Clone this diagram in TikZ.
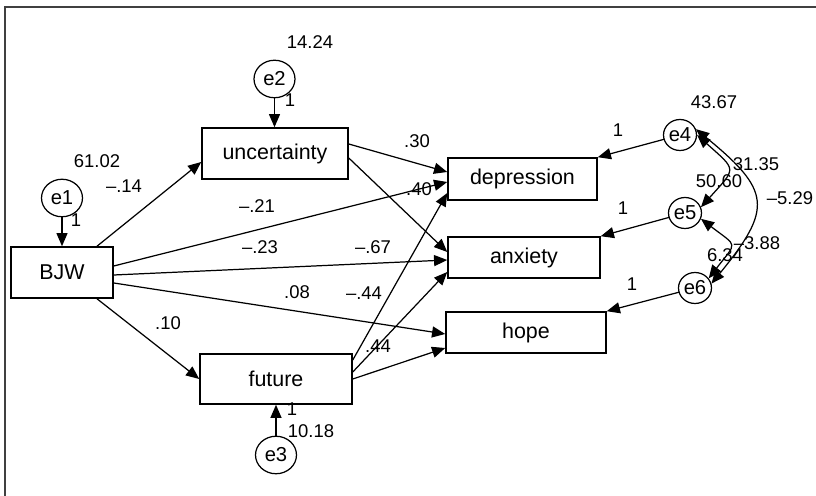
\documentclass[tikz,border=0pt]{standalone}
\usepackage{fontspec}
\setmainfont{Liberation Sans}
\usetikzlibrary{arrows.meta,calc,shapes.geometric}

\begin{document}
\begin{tikzpicture}
  [x=0.02cm,y=0.02cm,line cap=round,
   % Styles
   box/.style={draw,line width=0.9pt,inner sep=0pt,font=\fontsize{12.2}{14}\selectfont},
   err/.style={draw,ellipse,line width=0.7pt,inner sep=0pt,minimum width=0.82cm,minimum height=0.75cm,font=\fontsize{11.5}{13}\selectfont},
   small err/.style={err,minimum width=0.66cm,minimum height=0.62cm},
   num/.style={inner sep=0pt,font=\fontsize{10.5}{12}\selectfont},
   reg/.style={line width=0.7pt,-{Triangle[length=7.5pt,width=6.3pt]}},
   cov/.style={line width=0.7pt,{Triangle[length=7.5pt,width=6.3pt]}-{Triangle[length=7.5pt,width=6.3pt]},bend left=45,looseness=1.75},
   border line/.style={line width=0.8pt,black!75}]

  % Frame
  \useasboundingbox (0,0) rectangle (816,-496);
  \draw[border line] (5,-496) -- (5,-7) -- (816,-7);

  % Observed variables
  \node[box,minimum width=2.04cm,minimum height=1.02cm] (BJW)    at (62,-272.5) {BJW};
  \node[box,minimum width=2.92cm,minimum height=1.02cm] (uncert) at (275,-153.5) {uncertainty};
  \node[box,minimum width=3.04cm,minimum height=1.00cm] (future) at (276,-379) {future};
  \node[box,minimum width=2.98cm,minimum height=0.84cm] (depr)   at (522.5,-179) {depression};
  \node[box,minimum width=3.04cm,minimum height=0.82cm] (anx)    at (524,-257.5) {anxiety};
  \node[box,minimum width=3.20cm,minimum height=0.82cm] (hope)   at (526,-332.5) {hope};

  % Error terms
  \node[err] (e1) at (62,-198) {e1};
  \node[err] (e2) at (274.5,-79) {e2};
  \node[err] (e3) at (276,-455) {e3};
  \node[small err] (e4) at (680,-135) {e4};
  \node[small err] (e5) at (685,-213) {e5};
  \node[small err] (e6) at (695,-288) {e6};

  % Errors into variables
  \draw[reg] (e1) -- (e1 |- BJW.north);
  \draw[reg] (e2) -- (e2 |- uncert.north);
  \draw[reg] (e3) -- (e3 |- future.south);
  \draw[reg] (e4) -- (depr.north east);
  \draw[reg] (e5) -- (anx.north east);
  \draw[reg] (e6) -- (hope.north east);

  % Paths
  \draw[reg] ($(BJW.north)+(35,0)$) -- ($(uncert.west)+(0,-8.5)$);
  \draw[reg] ($(BJW.south)+(35,0)$) -- (future.west);
  \draw[reg] ($(BJW.east)+(0,6.5)$) -- ($(depr.west)+(0,-3)$);
  \draw[reg] ($(BJW.east)+(0,-2.5)$) -- ($(anx.west)+(0,-2.5)$);
  \draw[reg] ($(BJW.east)+(0,-10.5)$) -- ($(hope.west)+(0,-1.5)$);
  \draw[reg] ($(uncert.east)+(0,9.5)$) -- ($(depr.west)+(0,7)$);
  \draw[reg] ($(uncert.east)+(0,-4.5)$) -- ($(anx.west)+(0,5.5)$);
  \draw[reg] ($(future.east)+(0,19)$) -- ($(depr.west)+(0,-14)$);
  \draw[reg] ($(future.east)+(0,7)$) -- ($(anx.west)+(0,-14.5)$);
  \draw[reg] (future.east) -- ($(hope.west)+(0,-15.5)$);

  % Covariances
  \draw[cov,looseness=1.9] (e4.0) to (e5.20);
  \draw[cov,looseness=1.6] (e4.20) to (e6.15);
  \draw[cov,looseness=2] (e5.-20) to (e6.35);

  % Estimates
  \foreach \x/\y/\t [count=\i] in {310/42/14.24, 97/161/61.02, 124/186/--.14, 257/206/--.21,
      76/220/1, 290/100/1, 260/247/--.23, 373/247/--.67, 297/292/.08, 364/293/--.44,
      168/323/.10, 378/346/.44, 292/409/1, 311/431/10.18, 417/141/.30, 419/189/.40,
      714/102/43.67, 618/130/1, 756/164/31.35, 719/181/50.60, 790/198/--5.29,
      623/208/1, 757/243/--3.88, 725/255/6.34, 632/284/1}
    \node[num] (est\i) at (\x,-\y) {\t};
\end{tikzpicture}
\end{document}
